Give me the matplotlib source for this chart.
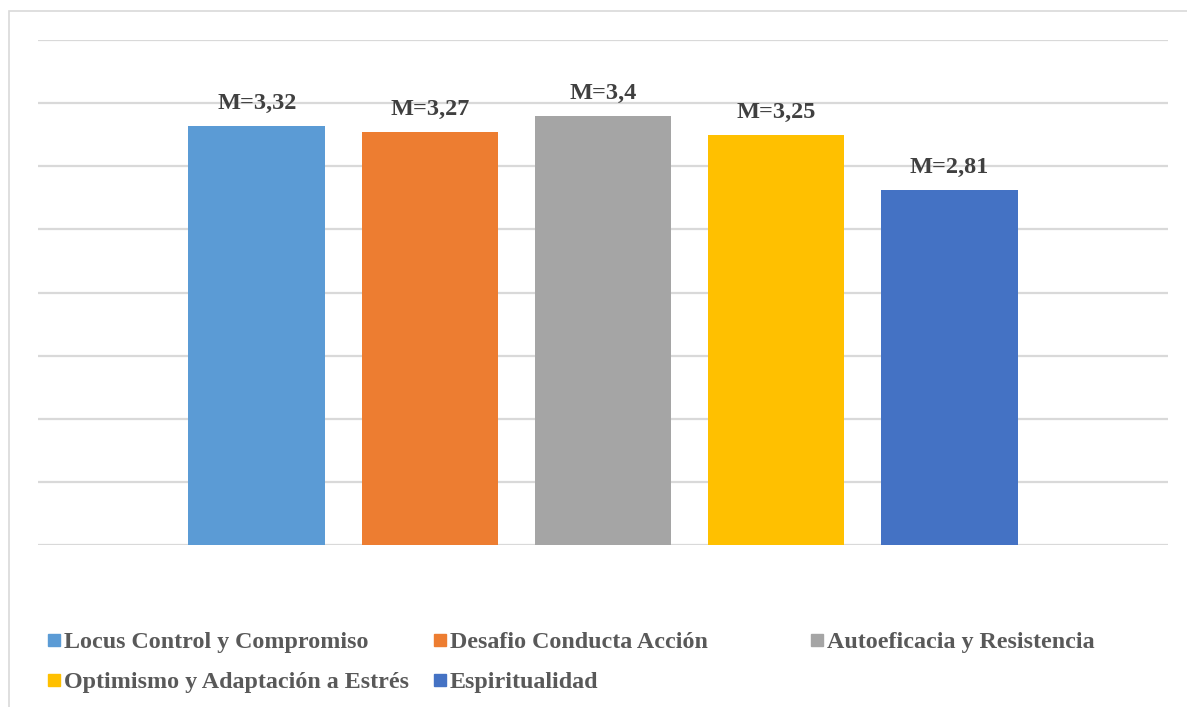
import matplotlib
matplotlib.use("Agg")
import matplotlib.pyplot as plt
from matplotlib.patches import Rectangle

# Data
series = ["Locus Control y Compromiso", "Desafio Conducta Acción",
          "Autoeficacia y Resistencia", "Optimismo y Adaptación a Estrés",
          "Espiritualidad"]
means = [3.32, 3.27, 3.40, 3.25, 2.81]
labels = ["M=3,32", "M=3,27", "M=3,4", "M=3,25", "M=2,81"]
colors = ["#5B9BD5", "#ED7D31", "#A5A5A5", "#FFC000", "#4472C4"]

W, H = 1187, 707
fig = plt.figure(figsize=(W / 100, H / 100), dpi=100)
fig.patch.set_facecolor("white")

serif = ["Liberation Serif", "DejaVu Serif"]

# outer chart frame
fig.patches.append(Rectangle((9 / W, -0.05), 1.1, 1 - 11 / H + 0.05,
                             transform=fig.transFigure, fill=False,
                             edgecolor="#d9d9d9", linewidth=1.2))

ax = fig.add_axes([38 / W, 1 - 545 / H, (1168 - 38) / W, (545 - 40) / H])
x = list(range(len(series)))
ax.bar(x, means, width=0.79, color=colors, zorder=3)
ax.set_ylim(0, 4)
ax.set_xlim(-1.264, 5.264)
ax.set_yticks([i * 0.5 for i in range(9)])
ax.yaxis.grid(True, color="#d9d9d9", linewidth=1.6, zorder=0)
ax.set_xticks([])
ax.tick_params(axis="y", length=0, labelleft=False)
for s in ax.spines.values():
    s.set_visible(False)

for xi, v, lab in zip(x, means, labels):
    ax.annotate(lab, (xi, v), xytext=(0, 17), textcoords="offset pixels",
                ha="center", va="baseline", fontsize=17.5, fontweight="bold",
                color="#404040", family=serif)

# legend, laid out row by row
col_x = [48, 434, 811]
row_base = [648, 688]
for i, (name, c) in enumerate(zip(series, colors)):
    r, col = divmod(i, 3)
    mx, by = col_x[col], row_base[r]
    fig.patches.append(Rectangle((mx / W, 1 - (by - 2) / H), 12 / W, 12 / H,
                                 transform=fig.transFigure, color=c))
    fig.text((mx + 16) / W, 1 - by / H, name, ha="left", va="baseline",
             fontsize=17.3, fontweight="bold", color="#595959", family=serif)

fig.savefig("out.png", dpi=100, facecolor="white")
